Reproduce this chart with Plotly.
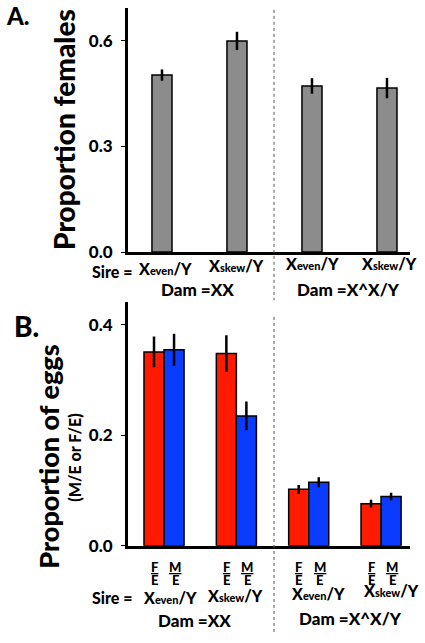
import plotly.graph_objects as go

# ---------------- data ----------------
groups = ["Xeven/Y (XX)", "Xskew/Y (XX)", "Xeven/Y (X^X/Y)", "Xskew/Y (X^X/Y)"]
sire_main = ["X", "X", "X", "X"]
sire_sub = ["even", "skew", "even", "skew"]
dam_labels = ["Dam =XX", "Dam =X^X/Y"]

prop_females = [0.503, 0.600, 0.472, 0.466]
prop_females_err = [0.016, 0.026, 0.022, 0.029]

prop_fe = [0.351, 0.348, 0.102, 0.076]
prop_fe_err = [0.028, 0.033, 0.008, 0.007]
prop_me = [0.355, 0.235, 0.115, 0.089]
prop_me_err = [0.029, 0.026, 0.009, 0.007]

ticks_a = [0.0, 0.3, 0.6]
ticks_b = [0.0, 0.2, 0.4]

# ---------------- styling ----------------
FONT = "Lato"
WEIGHT = 900
W, H = 425, 643
idx = list(range(len(groups)))


def py(px):
    return 1 - px / H


def px_x(px):
    return px / W


err_style = dict(type="data", color="black", thickness=2.5, width=0, visible=True)

fig = go.Figure()

fig.add_trace(go.Bar(
    x=idx, y=prop_females,
    error_y=dict(array=prop_females_err, **err_style),
    marker=dict(color="#8c8c8c", line=dict(color="black", width=1.5)),
    width=0.267, offset=-0.1335,
    xaxis="x", yaxis="y", showlegend=False,
))
fig.add_trace(go.Bar(
    x=idx, y=prop_fe,
    error_y=dict(array=prop_fe_err, **err_style),
    marker=dict(color="#ff1a00", line=dict(color="black", width=1.5)),
    width=0.277, offset=-0.277,
    xaxis="x2", yaxis="y2", showlegend=False,
))
fig.add_trace(go.Bar(
    x=idx, y=prop_me,
    error_y=dict(array=prop_me_err, **err_style),
    marker=dict(color="#0a3cff", line=dict(color="black", width=1.5)),
    width=0.277, offset=0.0,
    xaxis="x2", yaxis="y2", showlegend=False,
))

axis_common = dict(showline=True, linecolor="black", linewidth=3, showgrid=False,
                   zeroline=False, mirror=False)
tickfont = dict(size=17, family=FONT, weight=WEIGHT, color="black")

fig.update_layout(
    width=W, height=H,
    margin=dict(l=0, r=0, t=0, b=0),
    paper_bgcolor="white", plot_bgcolor="white",
    barmode="overlay",
    font=dict(family=FONT, color="black", weight=WEIGHT),
    xaxis=dict(domain=[px_x(128), px_x(410)], anchor="y", type="linear",
               range=[-0.453, 3.307], showticklabels=False, ticks="", **axis_common),
    yaxis=dict(domain=[py(256), py(8)], anchor="x", range=[0, 0.694],
               tickvals=ticks_a, ticktext=[f"{v:.1f}" for v in ticks_a],
               ticks="outside", ticklen=4, tickwidth=1, tickcolor="black",
               ticklabelstandoff=5, tickfont=tickfont, **axis_common),
    xaxis2=dict(domain=[px_x(128), px_x(410)], anchor="y2", type="linear",
                range=[-0.498, 3.40], showticklabels=False, ticks="", **axis_common),
    yaxis2=dict(domain=[py(554.3), py(307)], anchor="x2", range=[0, 0.441],
                tickvals=ticks_b, ticktext=[f"{v:.1f}" for v in ticks_b],
                ticks="outside", ticklen=4, tickwidth=1, tickcolor="black",
                ticklabelstandoff=5, tickfont=tickfont, **axis_common),
)

ann = []


def add(text, x, y, size=14, xref="paper", xanchor="center", yanchor="middle",
        textangle=0, xshift=0):
    ann.append(dict(text=text, x=x, y=y, xref=xref, yref="paper", showarrow=False,
                    xanchor=xanchor, yanchor=yanchor, textangle=textangle, xshift=xshift,
                    font=dict(size=size, family=FONT, color="black", weight=WEIGHT)))


def sire_text(main, sub):
    return f"{main}<span style='font-size:11px'>{sub}</span>/Y"


add("A.", px_x(18), py(16), size=24)
add("B.", px_x(26), py(331), size=28)
add("Proportion females", px_x(64), py(131), size=28, textangle=-90)
add("Proportion of eggs", px_x(49), py(464), size=27, textangle=-90)
add("(M/E or F/E)", px_x(75), py(465), size=16, textangle=-90)

add("Sire =", px_x(112), py(276), size=16)
a_shifts = [3, -1, 0, 2]
a_y = [273, 270, 268, 268]
for i, m, s, dx, yy in zip(idx, sire_main, sire_sub, a_shifts, a_y):
    add(sire_text(m, s), i, py(yy), size=16, xref="x", xshift=dx)
add(dam_labels[0], px_x(197), py(294), size=17)
add(dam_labels[1], px_x(348), py(294), size=17)

b_shifts = [6, -1, 9, 10]
b_y = [607, 605, 603, 600]
for i, m, s, dx, yy in zip(idx, sire_main, sire_sub, b_shifts, b_y):
    add(sire_text(m, s), i, py(yy), size=16, xref="x2", xshift=dx)
    add("<u>F</u>", i, py(576), size=13, xref="x2", xshift=-10)
    add("E", i, py(589), size=13, xref="x2", xshift=-10)
    add("<u>M</u>", i, py(576), size=13, xref="x2", xshift=11)
    add("E", i, py(589), size=13, xref="x2", xshift=11)
add("Sire =", px_x(112), py(607), size=16)
add(dam_labels[0], px_x(194), py(630), size=17)
add(dam_labels[1], px_x(350), py(628), size=17)

fig.update_layout(annotations=ann)

sep_x = px_x(274)
fig.add_shape(type="line", xref="paper", yref="paper", x0=sep_x, x1=sep_x,
              y0=py(10), y1=py(305), line=dict(color="#555555", width=1, dash="dot"))
fig.add_shape(type="line", xref="paper", yref="paper", x0=sep_x, x1=sep_x,
              y0=py(322), y1=0, line=dict(color="#555555", width=1, dash="dot"))

# remove the browser's default 8px body margin so the figure fills the window exactly
fig.write_html("out.html", config={"displayModeBar": False},
               post_script="document.body.style.margin='0px';")
